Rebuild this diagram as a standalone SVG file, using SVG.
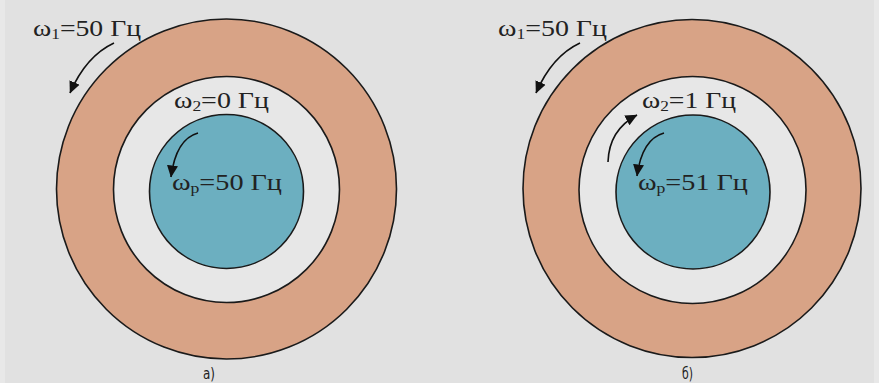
<svg xmlns="http://www.w3.org/2000/svg" width="879" height="383" viewBox="0 0 879 383">
<defs>
<style>
.bg{fill:#e1e1e1}
.outer{fill:#d8a386;stroke:#1a1a1a;stroke-width:1.6}
.gap{fill:#e7e7e7;stroke:#1a1a1a;stroke-width:1.6}
.rotor{fill:#6cafc0;stroke:#1a1a1a;stroke-width:1.6}
.lbl{font-family:"Liberation Serif","Times New Roman",serif;font-size:24px;fill:#222}
.sub{font-size:15px}
.cap{font-family:"Liberation Sans Narrow","DejaVu Sans","Liberation Sans",sans-serif;font-size:16px;fill:#222}
.arr{fill:none;stroke:#111;stroke-width:1.6}
</style>
<marker id="ah" viewBox="0 0 12 12" refX="11.5" refY="6" markerWidth="12" markerHeight="12" markerUnits="userSpaceOnUse" orient="auto">
<path d="M0,0.5 L12,6 L0,11.5 z" fill="#111"/>
</marker>
</defs>
<rect class="bg" x="0" y="0" width="879" height="383"/>
<rect x="0" y="0" width="5" height="383" fill="#e8e8e8"/>
<rect x="874" y="0" width="5" height="383" fill="#e8e8e8"/>

<g id="fig-a">
<circle class="outer" cx="226.5" cy="189" r="170"/>
<circle class="gap" cx="226.5" cy="189.5" r="113"/>
<circle class="rotor" cx="226.5" cy="191.5" r="77"/>
</g>
<g id="fig-b">
<circle class="outer" cx="692" cy="188.5" r="169"/>
<circle class="gap" cx="692.5" cy="190" r="113.5"/>
<circle class="rotor" cx="693" cy="192" r="77"/>
</g>

<g id="connectors">
<path class="arr" d="M114,43 Q86,56 70,93" marker-end="url(#ah)"/>
<path class="arr" d="M198,133 Q176,139 171,177" marker-end="url(#ah)"/>
<path class="arr" d="M580,43 Q552,56 536,93" marker-end="url(#ah)"/>
<path class="arr" d="M664,133 Q642,139 637,176" marker-end="url(#ah)"/>
<path class="arr" d="M608,162 Q609,130 637,115" marker-end="url(#ah)"/>
</g>

<g id="labels">
<text class="lbl" x="33" y="36" textLength="108" lengthAdjust="spacingAndGlyphs">ω<tspan class="sub" dy="3">1</tspan><tspan dy="-3">=50 Гц</tspan></text>
<text class="lbl" x="174" y="108" textLength="95" lengthAdjust="spacingAndGlyphs">ω<tspan class="sub" dy="3">2</tspan><tspan dy="-3">=0 Гц</tspan></text>
<text class="lbl" x="172" y="190" textLength="110" lengthAdjust="spacingAndGlyphs">ω<tspan class="sub" dy="3">p</tspan><tspan dy="-3">=50 Гц</tspan></text>
<text class="lbl" x="498" y="36" textLength="109" lengthAdjust="spacingAndGlyphs">ω<tspan class="sub" dy="3">1</tspan><tspan dy="-3">=50 Гц</tspan></text>
<text class="lbl" x="642" y="108" textLength="94" lengthAdjust="spacingAndGlyphs">ω<tspan class="sub" dy="3">2</tspan><tspan dy="-3">=1 Гц</tspan></text>
<text class="lbl" x="638" y="190" textLength="110" lengthAdjust="spacingAndGlyphs">ω<tspan class="sub" dy="3">p</tspan><tspan dy="-3">=51 Гц</tspan></text>
<text class="cap" x="203" y="379" textLength="12" lengthAdjust="spacingAndGlyphs">а)</text>
<text class="cap" x="682" y="379" textLength="11" lengthAdjust="spacingAndGlyphs">б)</text>
</g>
</svg>
